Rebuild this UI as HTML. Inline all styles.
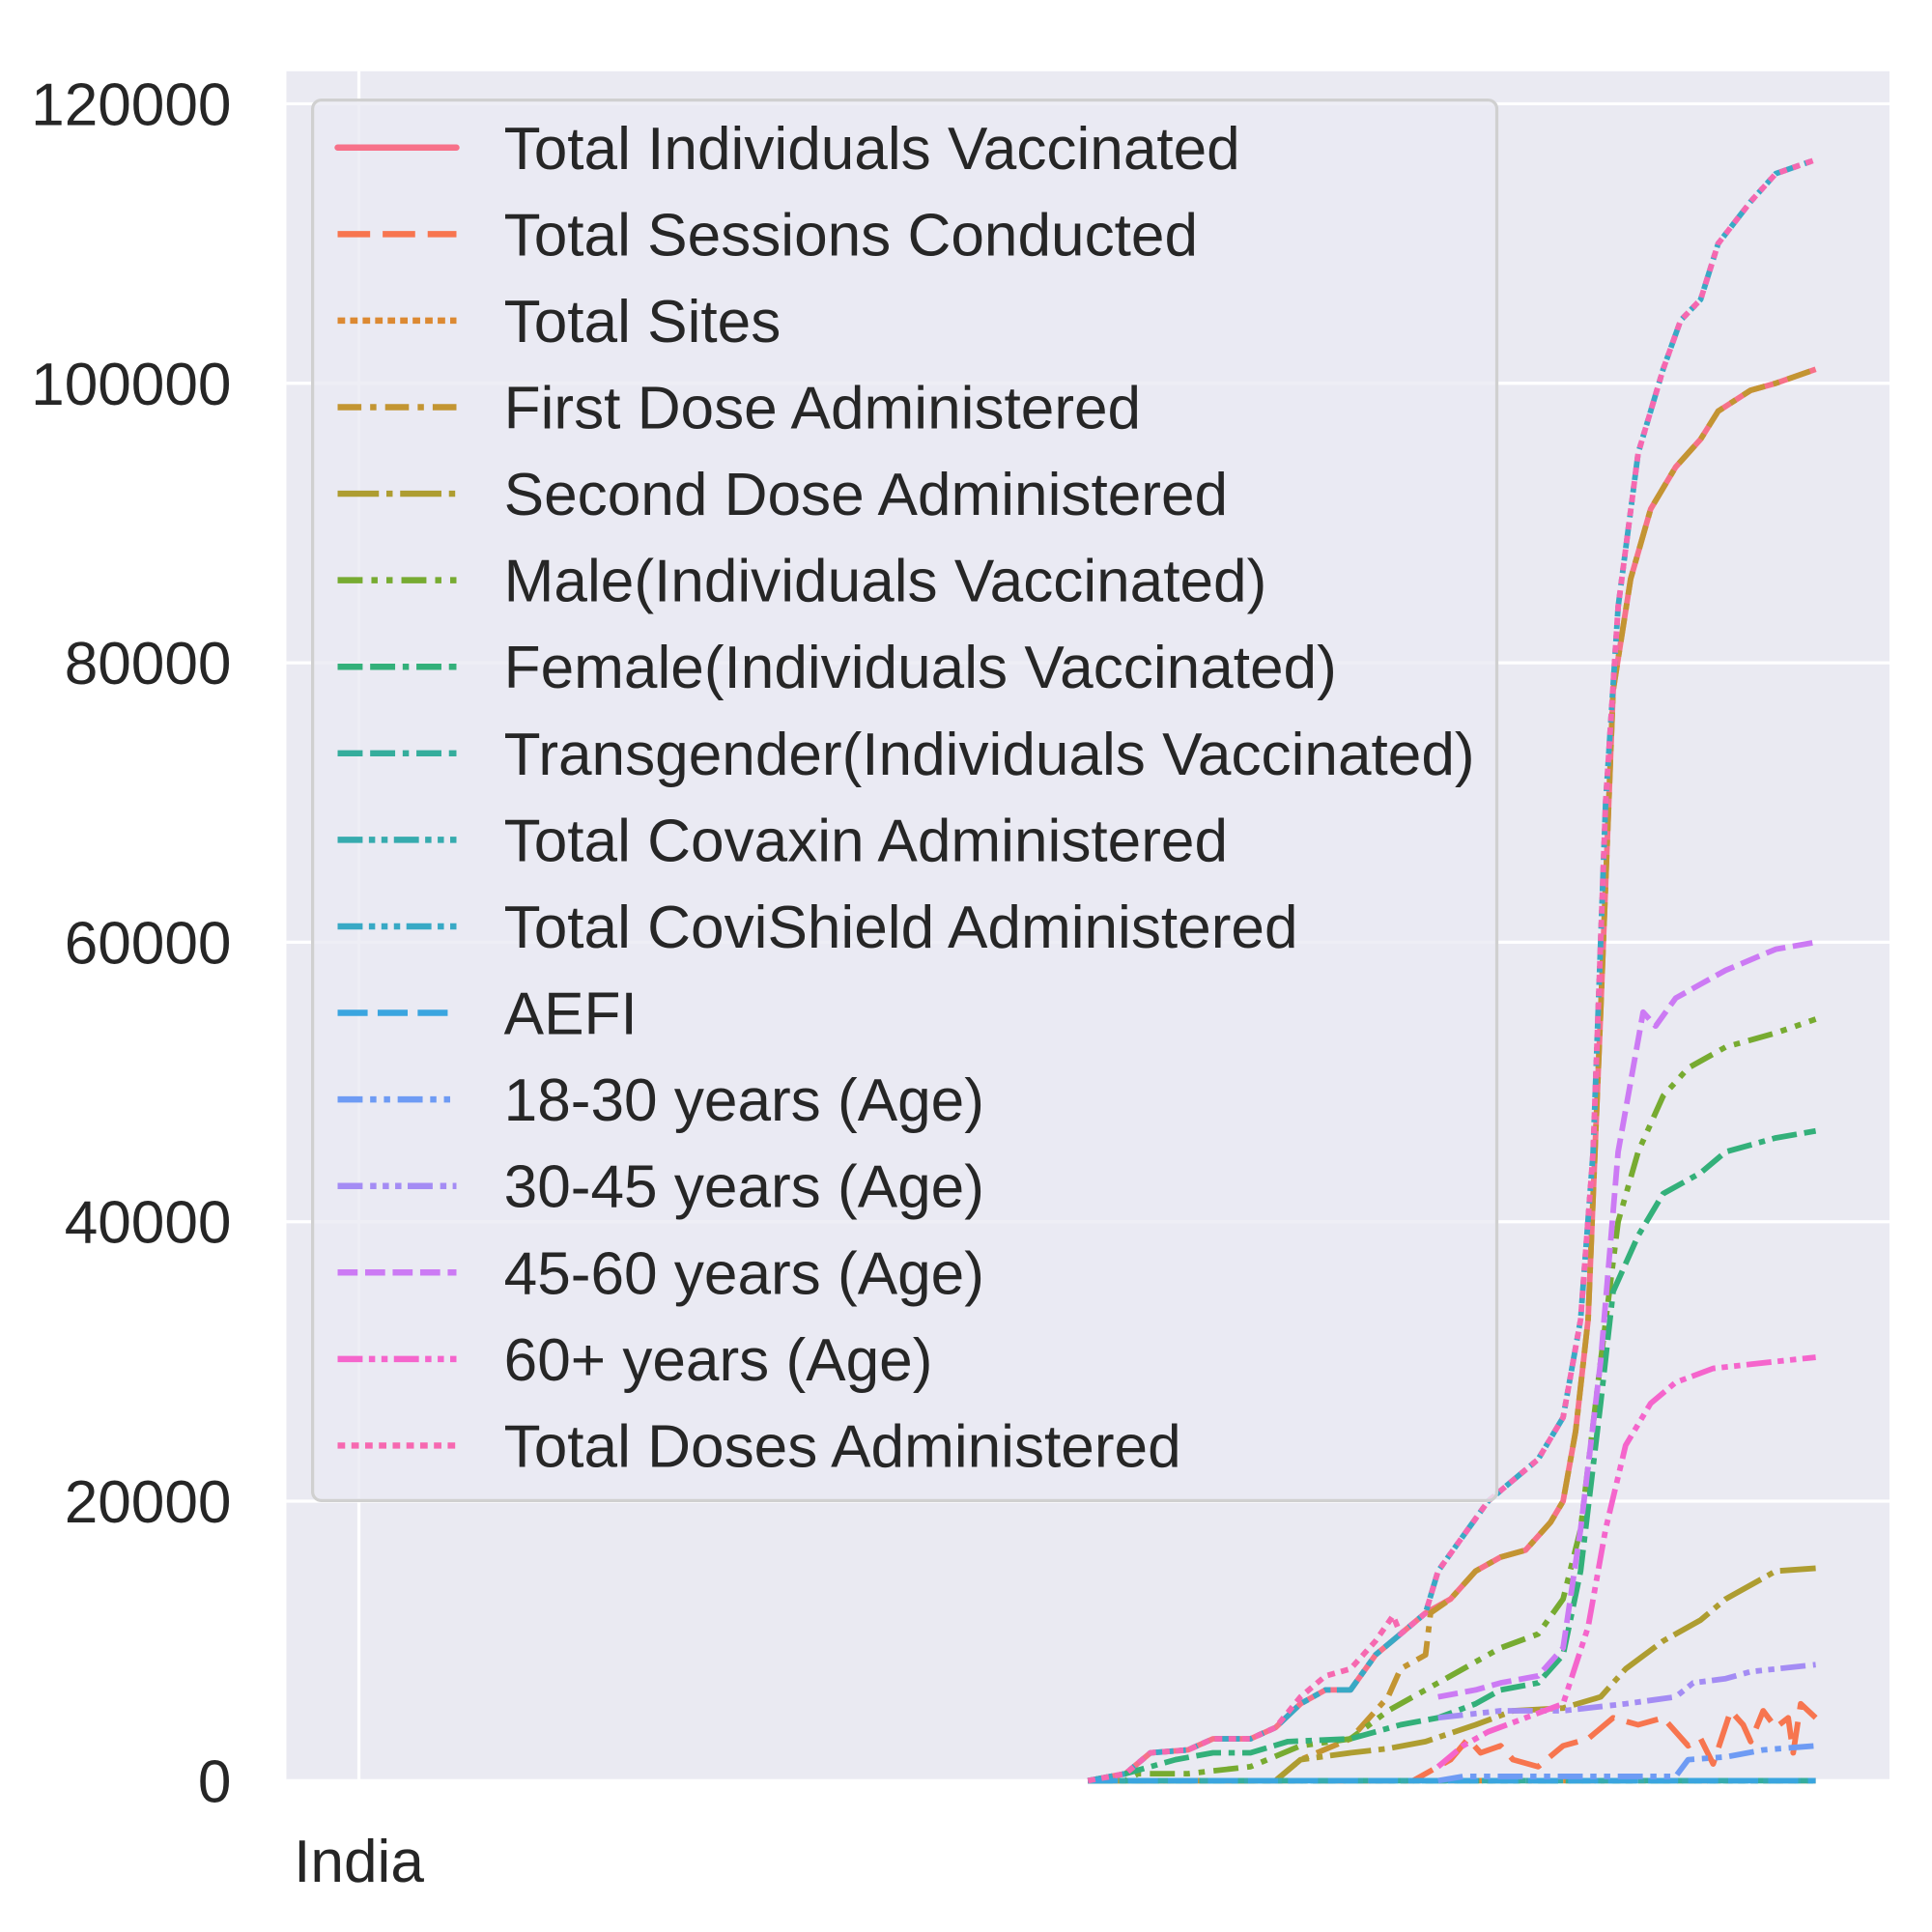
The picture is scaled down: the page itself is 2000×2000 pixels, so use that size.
<!DOCTYPE html>
<html><head><meta charset="utf-8"><style>
html,body{margin:0;padding:0;background:#fff;}
svg{display:block;font-family:"Liberation Sans",Arial,sans-serif;}
</style></head><body>
<svg id="chart" width="2000" height="2000" viewBox="0 0 1545 1545" xmlns="http://www.w3.org/2000/svg">
<rect x="229" y="57" width="1282" height="1367" fill="#eaeaf2"/>
<g id="grid"></g>
<g id="series"></g>
<g id="ticks"></g>
<g id="legend"></g>
</svg>
<script>
const yTicks = [0, 20000, 40000, 60000, 80000, 100000, 120000];
const xCategory = ["India"];
const seriesNames = ["Total Individuals Vaccinated","Total Sessions Conducted","Total Sites","First Dose Administered","Second Dose Administered","Male(Individuals Vaccinated)","Female(Individuals Vaccinated)","Transgender(Individuals Vaccinated)","Total Covaxin Administered","Total CoviShield Administered","AEFI","18-30 years (Age)","30-45 years (Age)","45-60 years (Age)","60+ years (Age)","Total Doses Administered"];
const colors = ["#f77189","#f7754f","#dc8932","#c39532","#ae9d31","#77ab31","#33b07a","#35ad9c","#36abae","#38a9c5","#3aa5df","#6e9bf4","#a48cf4","#cc7af4","#f565cc","#f668b0"];
const dashes = ["","26,10","6,4","19,7,5,7","33,6,5,6","20,7,5,7,5,7","20,6,20,6,5,6","20,6,20,6,5,6,20,6","20,5,5,5,5,5","20,5,5,5,5,5,5,5","24,8","20,6,5,6,5,6","20,6,5,5,5,5,5,5","16,6","20,5,5,5,5,5","6,5"];
// day index and value pairs per series
const dIndiv = [0,15,25,40,50,65,75,85,95,105,115,125,135,145,155,165,175,185,190,195,200,205,210,217,225,235,245,252,265,275,291];
const vIndiv = [0,500,2000,2200,3000,3000,3800,5500,6500,6500,9000,10500,12000,13000,15000,16000,16500,18500,20000,25000,33000,55000,78000,86000,91000,94000,96000,98000,99500,100000,101000];
const dSess = [0,130,135,145,152,157,165,170,180,190,200,210,220,230,240,245,250,257,262,265,270,275,280,282,285,291];
const vSess = [0,0,500,1500,3000,2000,2500,1500,1000,2500,3000,4500,4000,4500,2500,3000,1200,5000,4000,2800,5000,3800,4500,2000,5500,4500];
const dZero = [0,291];
const vZero = [0,0];
const dFirst = [0,75,85,105,120,125,135,137,145,155,165,175,185,190,195,200,205,210,217,225,235,245,252,265,275,291];
const vFirst = [0,0,1500,3000,6000,8000,9000,12000,13000,15000,16000,16500,18500,20000,25000,33000,55000,78000,86000,91000,94000,96000,98000,99500,100000,101000];
const dSecond = [0,75,85,105,120,135,155,170,190,205,215,230,245,255,275,291];
const vSecond = [0,0,1500,2000,2300,2800,4000,5000,5200,6000,8000,10000,11500,13000,15000,15200];
const dMale = [0,15,20,40,65,85,105,120,140,165,180,190,197,205,212,220,230,240,255,275,291];
const vMale = [0,0,500,500,1000,2500,3000,5000,7000,9500,10500,13000,18000,30000,40000,45000,49000,51000,52500,53500,54500];
const dFemale = [0,15,35,50,65,80,105,125,140,155,165,180,190,197,205,210,220,230,245,255,275,291];
const vFemale = [0,500,1500,2000,2000,2800,3000,4000,4500,5500,6500,7000,9000,15000,27000,35000,39000,42000,43500,45000,46000,46500];
const dCovi = [0,15,25,40,50,65,75,85,95,105,115,125,135,140,150,160,170,180,190,197,202,207,212,220,230,237,245,252,265,275,291];
const vCovi = [0,500,2000,2200,3000,3000,3800,5500,6500,6500,9000,10500,12000,15000,17500,20000,21500,23000,26000,33000,45000,70000,84000,95000,101000,104500,106000,110000,113000,115000,116000];
const dA18 = [140,150,235,240,255,270,291];
const vA18 = [0,300,300,1500,1700,2200,2500];
const dA30 = [140,165,190,215,235,242,255,265,291];
const vA30 = [4500,5000,5000,5500,6000,7000,7300,7800,8300];
const dA45 = [140,155,165,180,190,197,205,212,222,227,235,245,255,275,291];
const vA45 = [6000,6500,7000,7500,9500,18000,30000,45000,55000,54000,56000,57000,58000,59500,60000];
const dA60 = [140,150,160,175,190,200,207,215,225,235,250,275,291];
const vA60 = [1000,2500,3500,4500,5500,11000,18000,24000,27000,28500,29500,30000,30300];
const dDoses = [0,15,25,40,50,65,75,85,95,105,115,122,125,135,140,150,160,170,180,190,197,202,207,212,220,230,237,245,252,265,275,291];
const vDoses = [0,500,2000,2200,3000,3000,3800,6000,7500,8000,10000,11800,10500,12000,15000,17500,20000,21500,23000,26000,33000,45000,70000,84000,95000,101000,104500,106000,110000,113000,115000,116000];

const NS="http://www.w3.org/2000/svg";
const X0=870, X1=1452, DMAX=291, Y0=1424, YTOP=83, VMAX=120000;
function xs(d){return X0+(X1-X0)*d/DMAX;}
function ys(v){return Y0-(Y0-YTOP)*v/VMAX;}
function mk(tag,attrs,parent){const e=document.createElementNS(NS,tag);for(const k in attrs)e.setAttribute(k,attrs[k]);parent.appendChild(e);return e;}

const grid=document.getElementById('grid');
yTicks.forEach(t=>{
  const l=mk('line',{x1:229,x2:1511,y1:ys(t),y2:ys(t),stroke:'#fff','stroke-width':2.5},grid);
  
  
});
const vg=mk('line',{x1:287,x2:287,y1:57,y2:1424,stroke:'#fff','stroke-width':2.5},grid);



const ticks=document.getElementById('ticks');
yTicks.forEach(t=>{
  const tx=mk('text',{x:185,y:ys(t)+17,'text-anchor':'end','font-size':48,fill:'#262626'},ticks);
  tx.textContent=t;
  
  
});
const xl=mk('text',{x:287,y:1505,'text-anchor':'middle','font-size':48,fill:'#262626'},ticks);
xl.textContent=xCategory[0];



const data=[[dIndiv,vIndiv],[dSess,vSess],[dZero,vZero],[dFirst,vFirst],[dSecond,vSecond],[dMale,vMale],[dFemale,vFemale],[dZero,vZero],[dZero,vZero],[dCovi,vCovi],[dZero,vZero],[dA18,vA18],[dA30,vA30],[dA45,vA45],[dA60,vA60],[dDoses,vDoses]];
const sg=document.getElementById('series');
data.forEach((s,i)=>{
  const pts=s[0].map((d,j)=>xs(d).toFixed(1)+','+ys(s[1][j]).toFixed(1)).join(' ');
  const p=mk('polyline',{points:pts,fill:'none',stroke:colors[i],'stroke-width':4.5,'stroke-dasharray':dashes[i]||'none','stroke-linejoin':'round'},sg);
  
  
});

const lg=document.getElementById('legend');
const box=mk('rect',{x:250,y:80,width:947,height:1120,rx:7,fill:'#eaeaf2','fill-opacity':0.8,stroke:'#d0d0d0','stroke-width':2.5},lg);


seriesNames.forEach((n,i)=>{
  const y=118+i*69.2;
  const g=mk('g',{},lg);
  
  
  mk('line',{x1:270,x2:365,y1:y,y2:y,stroke:colors[i],'stroke-width':5,'stroke-dasharray':dashes[i]||'none','stroke-linecap':i===0?'round':'butt'},g);
  const t=mk('text',{x:403,y:y+17,'font-size':48,fill:'#262626'},g);
  t.textContent=n;
});
</script>
</body></html>
